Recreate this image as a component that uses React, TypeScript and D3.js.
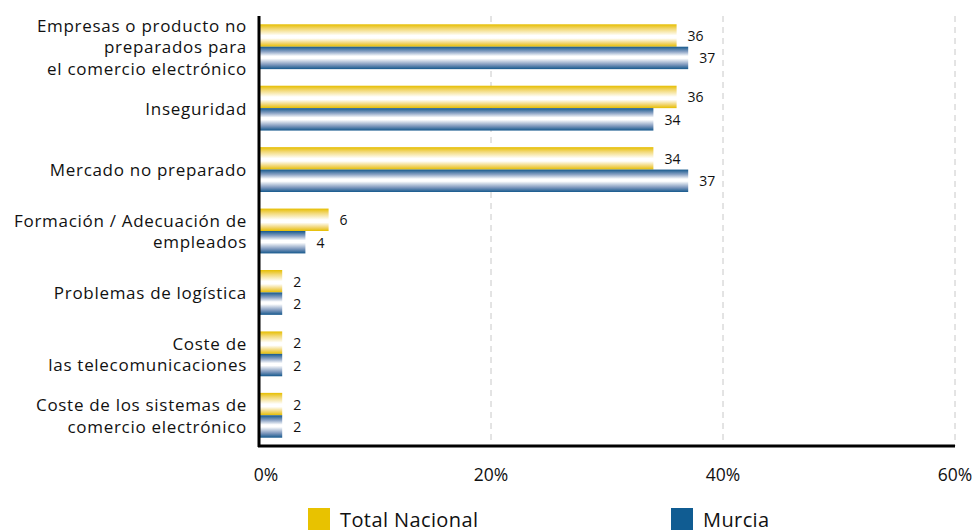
import React from "react";
import * as d3 from "d3";

const categories = [
  ["Empresas o producto no", "preparados para", "el comercio electrónico"],
  ["Inseguridad"],
  ["Mercado no preparado"],
  ["Formación / Adecuación de", "empleados"],
  ["Problemas de logística"],
  ["Coste de", "las telecomunicaciones"],
  ["Coste de los sistemas de", "comercio electrónico"],
];
const totalNacional = [36, 36, 34, 6, 2, 2, 2];
const murcia = [37, 34, 37, 4, 2, 2, 2];
const ticks = [0, 20, 40, 60];
const seriesNames = ["Total Nacional", "Murcia"];

export default function App() {
  const W = 978, H = 532;
  const x = d3.scaleLinear().domain([0, 60]).range([259, 955]);
  const y = d3.scaleBand<number>().domain(d3.range(categories.length)).range([16, 446]).paddingInner(0.27).paddingOuter(0.135);
  const sub = d3.scaleBand<number>().domain([0, 1]).range([0, y.bandwidth()]);
  const font = "'Open Sans', 'DejaVu Sans', sans-serif";
  return (
    <svg width={W} height={H} style={{ position: "absolute", left: 0, top: 0 }}>
      <defs>
        <linearGradient id="gy" x1="0" y1="0" x2="0" y2="1">
          <stop offset="0" stopColor="#E6BE00" />
          <stop offset="0.2" stopColor="#F2D873" />
          <stop offset="0.5" stopColor="#FFFFFF" />
          <stop offset="0.62" stopColor="#FFFFFF" />
          <stop offset="0.85" stopColor="#F0D36A" />
          <stop offset="1" stopColor="#E6BE00" />
        </linearGradient>
        <linearGradient id="gb" x1="0" y1="0" x2="0" y2="1">
          <stop offset="0" stopColor="#15588C" />
          <stop offset="0.22" stopColor="#8AA2C4" />
          <stop offset="0.42" stopColor="#FFFFFF" />
          <stop offset="0.52" stopColor="#FFFFFF" />
          <stop offset="0.8" stopColor="#7E98BD" />
          <stop offset="1" stopColor="#15588C" />
        </linearGradient>
      </defs>
      {ticks.slice(1).map((t) => (
        <line key={t} x1={x(t)} x2={x(t)} y1={16} y2={446} stroke="#C8C8C8" strokeWidth={1} strokeDasharray="6,5" />
      ))}
      {categories.map((c, i) => {
        const y0 = y(i)!;
        const vals = [totalNacional[i], murcia[i]];
        return (
          <g key={i}>
            {vals.map((v, k) => (
              <g key={k}>
                <rect x={x(0)} y={y0 + sub(k)!} width={x(v) - x(0)} height={sub.bandwidth()} fill={k === 0 ? "url(#gy)" : "url(#gb)"} />
                <text x={x(v) + 11} y={y0 + sub(k)! + sub.bandwidth() / 2} dominantBaseline="central" fontSize={14} fontFamily={font} fill="#111">{v}</text>
              </g>
            ))}
            {c.map((line, j) => (
              <text key={j} x={247} y={y0 + y.bandwidth() / 2 + (j - (c.length - 1) / 2) * 21.5} textAnchor="end" dominantBaseline="central" fontSize={17} letterSpacing={0.7} fontFamily={font} fill="#111">{line}</text>
            ))}
          </g>
        );
      })}
      <line x1={259} x2={259} y1={16} y2={447} stroke="#000" strokeWidth={3} />
      <line x1={258} x2={955} y1={446} y2={446} stroke="#000" strokeWidth={3} />
      {ticks.map((t) => (
        <text key={t} x={t === 0 ? x(t) + 7 : x(t)} y={474} textAnchor="middle" dominantBaseline="central" fontSize={17.5} fontFamily={font} fill="#111">{t}%</text>
      ))}
      {seriesNames.map((s, k) => (
        <g key={s}>
          <rect x={k === 0 ? 308 : 671} y={508} width={22} height={22} fill={k === 0 ? "#E8C200" : "#105C92"} />
          <text x={k === 0 ? 340 : 703} y={527} fontSize={20} letterSpacing={0.4} fontFamily={font} fill="#111">{s}</text>
        </g>
      ))}
    </svg>
  );
}
